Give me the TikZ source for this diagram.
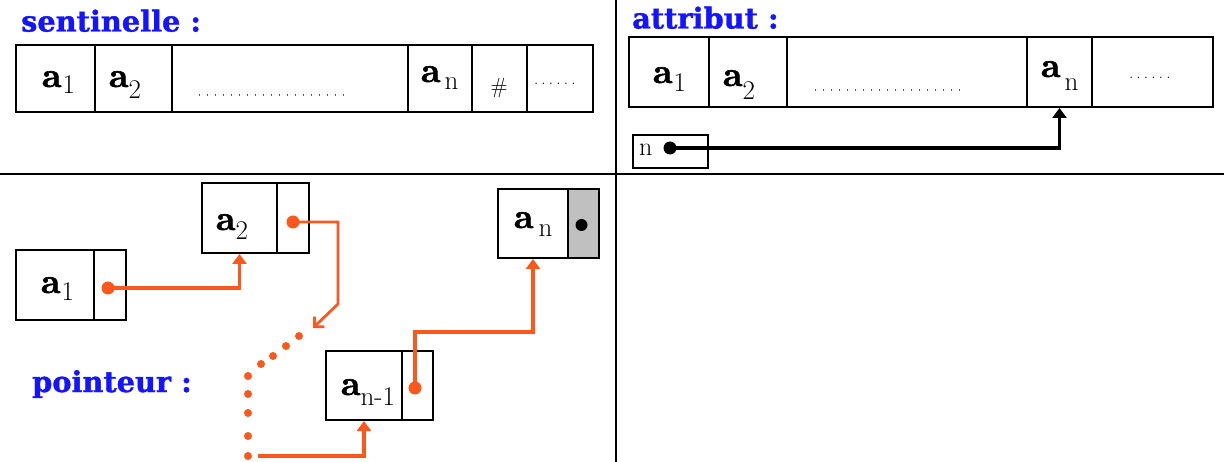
\documentclass[tikz,border=0pt]{standalone}
\usepackage{fontspec}
\newfontfamily\titlefont{DejaVu Serif}[BoldFeatures={FakeBold=1.3}]
\newfontfamily\heavyfont{lmroman10-bold.otf}[FakeBold=1.6]
\usetikzlibrary{arrows.meta}
\definecolor{ttlblue}{RGB}{20,20,255}
\definecolor{ptrorange}{RGB}{252,88,30}
\definecolor{cellgray}{RGB}{192,192,192}
\definecolor{dotgray}{RGB}{80,100,90}
% \elem{subscript}{kern}{drop}
\newcommand\elem[3]{{\fontsize{35}{35}\heavyfont a}\kern#2pt\raisebox{-#3pt}{\fontsize{27}{27}\selectfont #1}}
\newcommand\smalldots{{\fontsize{17}{17}\selectfont .\kern3.2pt.\kern3.2pt.\kern3.2pt.\kern3.2pt.\kern3.2pt.}}
\begin{document}
\begin{tikzpicture}[x=1pt,y=-1pt,
  cell/.style={draw=black, line width=1.8pt, inner sep=0pt, outer sep=0pt},
  txt/.style={anchor=base west, inner sep=0pt, outer sep=0pt},
  ttl/.style={anchor=base west, inner sep=0pt, text=ttlblue, font=\titlefont\bfseries\fontsize{28.8}{28.8}\selectfont},
  ptrline/.style={draw=ptrorange, line width=3.3pt},
  ptrtip/.style={-{Triangle[width=14pt,length=10pt]}, shorten >=1pt},
  blkline/.style={draw=black, line width=3.3pt}
]
\useasboundingbox (0,0) rectangle (1224,462);
% quadrant lines
\draw[line width=2.2pt] (0,174) -- (1224,174);
\draw[line width=2.2pt] (616,0) -- (616,462);

% ---------- sentinelle ----------
\node[ttl] (tsent) at (21,31.5) {sentinelle :};
\node[cell, minimum width=79pt, minimum height=67pt] (s1) at (55.5,78.5) {};
\node[cell, minimum width=77pt, minimum height=67pt] (s2) at (133.5,78.5) {};
\node[cell, minimum width=236pt, minimum height=67pt] (s3) at (290,78.5) {};
\node[cell, minimum width=64pt, minimum height=67pt] (s4) at (440,78.5) {};
\node[cell, minimum width=55pt, minimum height=67pt] (s5) at (499.5,78.5) {};
\node[cell, minimum width=66pt, minimum height=67pt] (s6) at (560,78.5) {};
\node[txt] (s1t) at (42,87) {\elem{1}{1}{7}};
\node[txt] (s2t) at (109,87) {\elem{2}{0}{12}};
\node[txt] (s4t) at (421,82) {\elem{n}{4}{8}};
\node[txt] (s5t) at (490.5,94) {\fontsize{22}{22}\selectfont\#};
\node[txt] (s6t) at (534,85) {\smalldots};
\draw[dotgray, line width=1.4pt, dash pattern=on 1.4pt off 6.6pt] (199,95) -- (346,95);

% ---------- attribut ----------
\node[ttl] (tattr) at (632,28.5) {attribut :};
\node[cell, minimum width=80pt, minimum height=70pt] (t1) at (669,72) {};
\node[cell, minimum width=78pt, minimum height=70pt] (t2) at (748,72) {};
\node[cell, minimum width=240pt, minimum height=70pt] (t3) at (907,72) {};
\node[cell, minimum width=65pt, minimum height=70pt] (t4) at (1059.5,72) {};
\node[cell, minimum width=121pt, minimum height=70pt] (t5) at (1152.5,72) {};
\node[txt] (t1t) at (653,83) {\elem{1}{1}{9}};
\node[txt] (t2t) at (723,86) {\elem{2}{0}{14}};
\node[txt] (t4t) at (1041,77) {\elem{n}{4}{14}};
\node[txt] (t5t) at (1129,79) {\smalldots};
\draw[dotgray, line width=1.4pt, dash pattern=on 1.4pt off 6.6pt] (815,90) -- (963,90);
\node[cell, minimum width=75pt, minimum height=33pt] (nbox) at (670.5,151.5) {};
\node[txt] (nboxt) at (639,156) {\fontsize{26}{26}\selectfont n};
\coordinate (ndot) at (670,148);
\fill[black] (ndot) circle (6.5);
\draw[blkline, -{Triangle[width=14pt,length=10pt]}, shorten >=1pt] (ndot) -| (t4.south);

% ---------- pointeur ----------
\node[ttl] (tptr) at (32,392) {pointeur :};
% a1
\node[cell, minimum width=78pt, minimum height=70pt] (a1v) at (55,285) {};
\node[cell, minimum width=32pt, minimum height=70pt] (a1p) at (110,285) {};
\node[txt] (a1t) at (41,293) {\elem{1}{1}{8}};
% a2
\node[cell, minimum width=75pt, minimum height=70pt] (a2v) at (239.5,218) {};
\node[cell, minimum width=32pt, minimum height=70pt] (a2p) at (293,218) {};
\node[txt] (a2t) at (216,230) {\elem{2}{0}{10}};
% an
\node[cell, minimum width=70pt, minimum height=69pt] (anv) at (533,223.5) {};
\node[cell, fill=cellgray, minimum width=31pt, minimum height=69pt] (anp) at (583.5,223.5) {};
\node[txt] (ant) at (514,228) {\elem{n}{5}{9}};
\fill[black] (anp.center) ++(-2,1.5) circle (6);
% a(n-1)
\node[cell, minimum width=76pt, minimum height=69pt] (an1v) at (364,385.5) {};
\node[cell, minimum width=31pt, minimum height=69pt] (an1p) at (417.5,385.5) {};
\node[txt] (an1t) at (341,395) {\elem{n-1}{0}{10}};

% pointers
\fill[ptrorange] (108,288) coordinate (a1dot) circle (6.5);
\draw[ptrline, ptrtip] (a1dot) -| (a2v.south);
\fill[ptrorange] (293,222) coordinate (a2dot) circle (6.5);
\coordinate (bend) at (338,304);
\coordinate (gapend) at (313,328);
\draw[ptrline, line width=2.8pt, -{Straight Barb[length=7pt,width=14pt]}] (a2dot) -| (bend) -- (gapend);
\foreach \px/\py in {299/336, 286/346, 273/356, 261/364, 248/376, 248/394, 248/413, 248/436, 248/456}
  \fill[ptrorange] (\px,\py) circle (4);
\coordinate (dstart) at (258,456);
\draw[ptrline, ptrtip] (dstart) -| (an1v.south);
\fill[ptrorange] (415,388) coordinate (an1dot) circle (6.5);
\draw[ptrline, ptrtip] (an1dot) -- ++(0,-56) -| (anv.south);
\end{tikzpicture}
\end{document}
